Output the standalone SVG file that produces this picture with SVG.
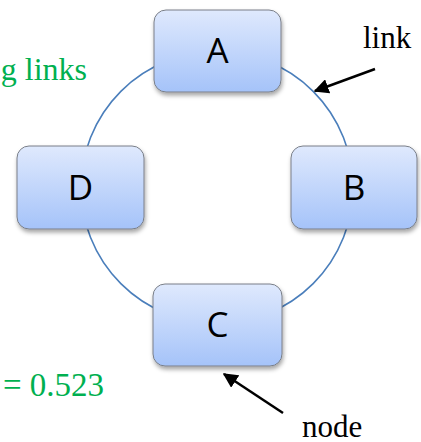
<svg xmlns="http://www.w3.org/2000/svg" width="421" height="442" viewBox="0 0 421 442">
  <defs>
    <linearGradient id="nodeFill" x1="0" y1="0" x2="0" y2="1">
      <stop offset="0" stop-color="#dfe9fd"/>
      <stop offset="1" stop-color="#a5c3f9"/>
    </linearGradient>
    <filter id="shadow" x="-20%" y="-20%" width="140%" height="150%">
      <feDropShadow dx="1" dy="3" stdDeviation="2" flood-color="#000" flood-opacity="0.35"/>
    </filter>
    <marker id="arrow" viewBox="0 0 10 10" refX="9" refY="5" markerWidth="6" markerHeight="6" markerUnits="strokeWidth" orient="auto">
      <path d="M0,0 L10,5 L0,10 z" fill="#000"/>
    </marker>
    <style>
      .node rect { fill: url(#nodeFill); stroke: #7a7f88; stroke-width: 1; filter: url(#shadow); }
      .node text { font-family: "Open Sans", "DejaVu Sans", sans-serif; font-size: 35px; fill: #000; text-anchor: middle; }
      .link { fill: none; stroke: #4a7ebb; stroke-width: 1.6; }
      .pointer { stroke: #000; stroke-width: 2.5; fill: none; marker-end: url(#arrow); }
      .label { font-family: "Liberation Serif", "Times New Roman", serif; font-size: 31px; fill: #000; }
      .green { font-family: "Liberation Serif", "Times New Roman", serif; fill: #00b050; text-anchor: end; }
    </style>
  </defs>

  <g id="connectors">
    <circle class="link" cx="217" cy="187.5" r="136"/>
  </g>

  <g id="node-A" class="node">
    <rect x="154" y="10" width="127" height="82" rx="12" ry="12"/>
    <text x="217.5" y="63">A</text>
  </g>
  <g id="node-B" class="node">
    <rect x="291" y="146" width="126" height="83" rx="12" ry="12"/>
    <text x="354" y="200">B</text>
  </g>
  <g id="node-C" class="node">
    <rect x="153" y="284" width="129" height="82" rx="12" ry="12"/>
    <text x="217.5" y="337">C</text>
  </g>
  <g id="node-D" class="node">
    <rect x="17" y="146" width="127" height="83" rx="12" ry="12"/>
    <text x="80.5" y="200">D</text>
  </g>

  <g id="annotations">
    <line class="pointer" x1="375" y1="69" x2="315" y2="91"/>
    <text class="label" x="363" y="48">link</text>
    <line class="pointer" x1="283" y1="413" x2="224" y2="374"/>
    <text class="label" x="302" y="437">node</text>
    <text class="green" x="87" y="80" font-size="32">g links</text>
    <text class="green" x="104" y="396" font-size="33">= 0.523</text>
  </g>
</svg>
